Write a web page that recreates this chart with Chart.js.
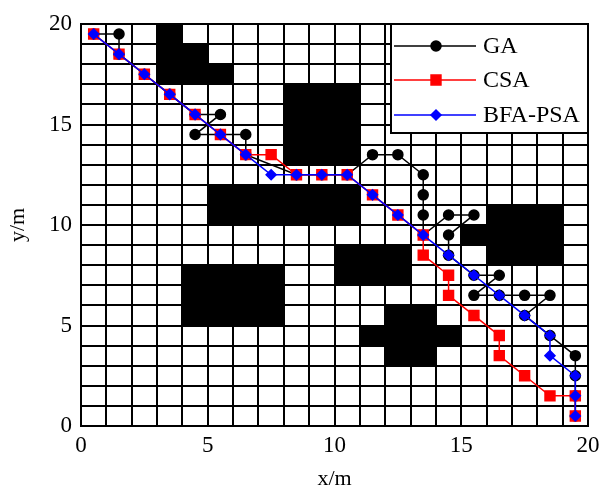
<!DOCTYPE html>
<html>
<head>
<meta charset="utf-8">
<script src="https://cdn.jsdelivr.net/npm/chart.js@4.4.0/dist/chart.umd.min.js"></script>
<style>
  body { margin: 0; background: #fff; }
  #wrap { width: 600px; height: 488px; }
</style>
</head>
<body>
<div id="wrap"><canvas id="pathChart"></canvas></div>
<script>
// grid map 20x20, obstacles as [x0, y0, x1, y1] cells
const obstacles = [
  [3, 19, 4, 20], [3, 18, 5, 19], [3, 17, 6, 18],
  [8, 13, 11, 17],
  [5, 10, 11, 12],
  [4, 5, 8, 8],
  [10, 7, 13, 9],
  [16, 8, 19, 11], [15, 9, 16, 10],
  [12, 5, 14, 6], [11, 4, 15, 5], [12, 3, 14, 4]
];

const xTicks = [0, 5, 10, 15, 20];
const yTicks = [0, 5, 10, 15, 20];

// GA path
const gaX = [0.5, 1.5, 1.5, 2.5, 3.5, 4.5, 5.5, 4.5, 5.5, 6.5,
  6.5, 8.5, 9.5, 10.5, 11.5, 12.5, 13.5, 13.5, 13.5, 13.5,
  14.5, 15.5, 14.5, 14.5, 15.5, 16.5, 15.5, 16.5, 17.5, 18.5,
  17.5, 18.5, 19.5, 19.5, 19.5, 19.5];
const gaY = [19.5, 19.5, 18.5, 17.5, 16.5, 15.5, 15.5, 14.5, 14.5, 14.5,
  13.5, 12.5, 12.5, 12.5, 13.5, 13.5, 12.5, 11.5, 10.5, 9.5,
  10.5, 10.5, 9.5, 8.5, 7.5, 7.5, 6.5, 6.5, 6.5, 6.5,
  5.5, 4.5, 3.5, 2.5, 1.5, 0.5];

// CSA path
const csaX = [0.5, 1.5, 2.5, 3.5, 4.5, 5.5, 6.5, 7.5, 8.5, 9.5, 10.5, 11.5,
  12.5, 13.5, 13.5, 14.5, 14.5, 15.5, 16.5, 16.5, 17.5, 18.5, 19.5, 19.5];
const csaY = [19.5, 18.5, 17.5, 16.5, 15.5, 14.5, 13.5, 13.5, 12.5, 12.5, 12.5, 11.5,
  10.5, 9.5, 8.5, 7.5, 6.5, 5.5, 4.5, 3.5, 2.5, 1.5, 1.5, 0.5];

// BFA-PSA path
const bfaX = [0.5, 1.5, 2.5, 3.5, 4.5, 5.5, 6.5, 7.5, 8.5, 9.5, 10.5, 11.5,
  12.5, 13.5, 14.5, 15.5, 16.5, 17.5, 18.5, 18.5, 19.5, 19.5, 19.5];
const bfaY = [19.5, 18.5, 17.5, 16.5, 15.5, 14.5, 13.5, 12.5, 12.5, 12.5, 12.5, 11.5,
  10.5, 9.5, 8.5, 7.5, 6.5, 5.5, 4.5, 3.5, 2.5, 1.5, 0.5];

const toPoints = (xs, ys) => xs.map((x, i) => ({ x: x, y: ys[i] }));

const serif = '"Liberation Serif", "Times New Roman", serif';

// black obstacle cells
const obstaclePlugin = {
  id: 'obstacles',
  beforeDatasetsDraw(chart) {
    const ctx = chart.ctx;
    const xs = chart.scales.x, ys = chart.scales.y;
    ctx.save();
    ctx.fillStyle = '#000';
    obstacles.forEach(o => {
      const l = xs.getPixelForValue(o[0]), r = xs.getPixelForValue(o[2]);
      const t = ys.getPixelForValue(o[3]), b = ys.getPixelForValue(o[1]);
      ctx.fillRect(l, t, r - l, b - t);
    });
    ctx.restore();
  }
};

// legend box inside the top right corner
const legendPlugin = {
  id: 'legendBox',
  afterDatasetsDraw(chart) {
    const ctx = chart.ctx, area = chart.chartArea;
    const w = 197, h = 109;
    const left = area.right - w, top = area.top;
    ctx.save();
    ctx.fillStyle = '#fff';
    ctx.fillRect(left, top, w, h);
    ctx.strokeStyle = '#000';
    ctx.lineWidth = 2;
    ctx.strokeRect(left, top, w, h);
    const rows = [22, 56, 91];
    chart.data.datasets.forEach((ds, i) => {
      const y = top + rows[i];
      ctx.strokeStyle = ds.borderColor;
      ctx.lineWidth = ds.borderWidth;
      ctx.beginPath();
      ctx.moveTo(left + 3, y);
      ctx.lineTo(left + 85, y);
      ctx.stroke();
      ctx.fillStyle = ds.pointBackgroundColor;
      ctx.strokeStyle = ds.pointBorderColor;
      Chart.helpers.drawPoint(ctx, {
        pointStyle: ds.pointStyle, radius: ds.pointRadius, rotation: 0, borderWidth: 1
      }, left + 45, y);
      ctx.fillStyle = '#000';
      ctx.font = '24px ' + serif;
      ctx.textBaseline = 'middle';
      ctx.textAlign = 'left';
      ctx.fillText(ds.label, left + 92, y + 1);
    });
    ctx.restore();
  }
};

const tickLabel = v => (xTicks.includes(v) ? String(v) : '');
const yTickLabel = v => (yTicks.includes(v) ? String(v) : '');

new Chart(document.getElementById('pathChart'), {
  type: 'scatter',
  data: {
    datasets: [
      {
        label: 'GA',
        data: toPoints(gaX, gaY),
        showLine: true,
        borderColor: '#000',
        borderWidth: 1.5,
        pointStyle: 'circle',
        pointRadius: 5,
        pointBackgroundColor: '#000',
        pointBorderColor: '#000',
        order: 3
      },
      {
        label: 'CSA',
        data: toPoints(csaX, csaY),
        showLine: true,
        borderColor: '#ff0000',
        borderWidth: 1.5,
        pointStyle: 'rect',
        pointRadius: 7,
        pointBackgroundColor: '#ff0000',
        pointBorderColor: '#ff0000',
        order: 2
      },
      {
        label: 'BFA-PSA',
        data: toPoints(bfaX, bfaY),
        showLine: true,
        borderColor: '#0000ff',
        borderWidth: 1.5,
        pointStyle: 'rectRot',
        pointRadius: 5,
        pointBackgroundColor: '#0000ff',
        pointBorderColor: '#0000ff',
        order: 1
      }
    ]
  },
  options: {
    responsive: true,
    maintainAspectRatio: false,
    animation: false,
    layout: { padding: { top: 24, right: 0, left: 0, bottom: 0 } },
    plugins: {
      legend: { display: false },
      tooltip: { enabled: false }
    },
    scales: {
      x: {
        type: 'linear',
        min: 0,
        max: 20,
        afterFit: s => { s.height = 62; s.paddingRight = 12; s.paddingLeft = 0; },
        ticks: {
          stepSize: 1,
          autoSkip: false,
          maxRotation: 0,
          padding: 6,
          color: '#000',
          font: { family: serif, size: 23 },
          callback: tickLabel
        },
        grid: { color: '#000', lineWidth: 2, drawTicks: false },
        border: { color: '#000', width: 2 },
        title: {
          display: true,
          text: 'x/m',
          color: '#000',
          font: { family: serif, size: 22, lineHeight: 1 },
          padding: { top: 0, bottom: -2 }
        }
      },
      y: {
        type: 'linear',
        min: 0,
        max: 20,
        afterFit: s => { s.width = 81; },
        ticks: {
          stepSize: 1,
          autoSkip: false,
          padding: 9,
          color: '#000',
          font: { family: serif, size: 23 },
          callback: yTickLabel
        },
        grid: { color: '#000', lineWidth: 2, drawTicks: false },
        border: { color: '#000', width: 2 },
        title: {
          display: true,
          text: 'y/m',
          color: '#000',
          font: { family: serif, size: 22, lineHeight: 1 },
          padding: { top: 7, bottom: 0 }
        }
      }
    }
  },
  plugins: [obstaclePlugin, legendPlugin]
});
</script>
</body>
</html>
